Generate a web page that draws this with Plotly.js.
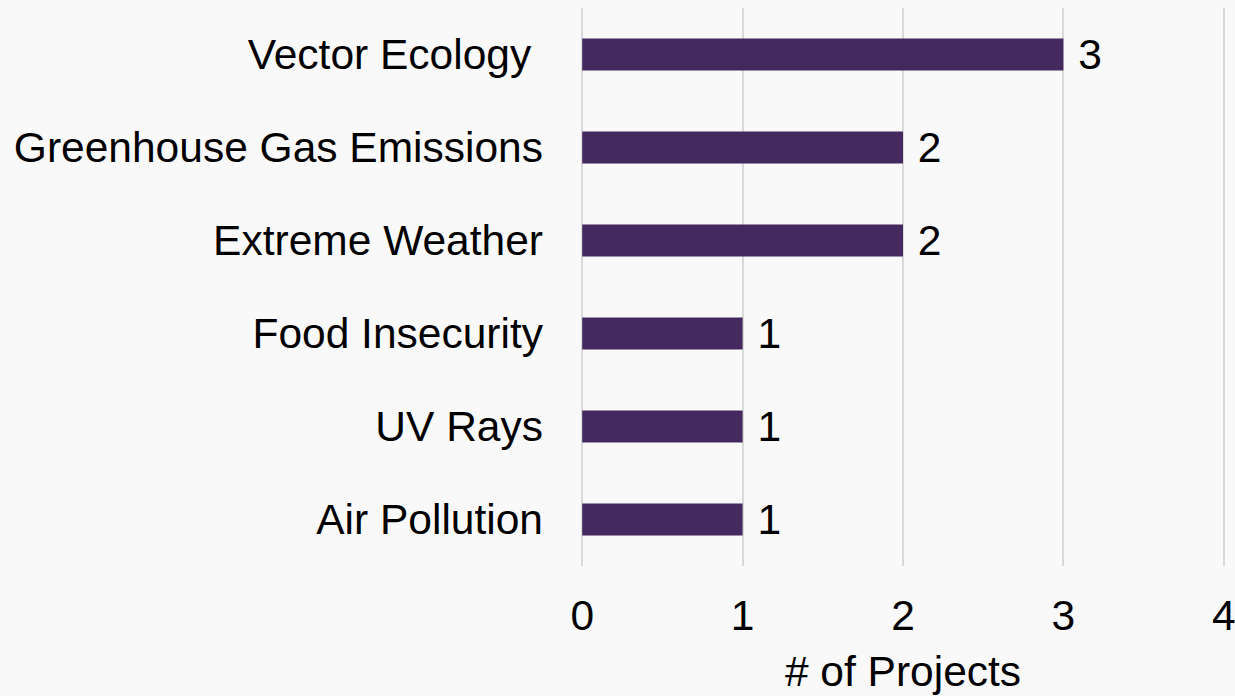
<!DOCTYPE html>
<html>
<head>
<meta charset="utf-8">
<script src="https://cdn.plot.ly/plotly-3.0.1.min.js"></script>
<style>
html, body { margin: 0; padding: 0; background: #f9f9f9; }
#chart { width: 1235px; height: 696px; }
</style>
</head>
<body>
<div id="chart"></div>
<script>
const categories = ["Vector Ecology\u00a0", "Greenhouse Gas Emissions", "Extreme Weather", "Food Insecurity", "UV Rays", "Air Pollution"];
const projectCounts = [3, 2, 2, 1, 1, 1];
const xTickValues = [0, 1, 2, 3, 4];
const xTickLabels = ["0", "1", "2", "3", "4"];
const xAxisTitle = "# of Projects";

const FONT = "'Liberation Sans', Arial, sans-serif";
const FS = 42.5;

const trace = {
  type: "bar",
  orientation: "h",
  x: projectCounts,
  y: categories,
  marker: { color: "#44295e" },
  text: projectCounts.map(String),
  texttemplate: "\u00a0%{text}",
  textposition: "outside",
  constraintext: "none",
  cliponaxis: false,
  textfont: { family: FONT, size: FS, color: "#000000" },
  hoverinfo: "none"
};

const layout = {
  width: 1235,
  height: 696,
  paper_bgcolor: "#f9f9f9",
  plot_bgcolor: "#f9f9f9",
  margin: { l: 579, r: 8, t: 8, b: 130 },
  bargap: 0.655,
  showlegend: false,
  font: { family: FONT, size: FS, color: "#000000" },
  xaxis: {
    range: [-0.02, 4.02],
    tickvals: xTickValues,
    ticktext: xTickLabels,
    showgrid: true,
    gridcolor: "#d9d9d9",
    gridwidth: 2,
    zeroline: true,
    zerolinecolor: "#d9d9d9",
    zerolinewidth: 2,
    showline: false,
    ticks: "",
    ticklabelstandoff: 20,
    ticklabeloverflow: "allow",
    tickfont: { family: FONT, size: FS, color: "#000000" },
    title: { text: xAxisTitle, font: { family: FONT, size: FS, color: "#000000" }, standoff: 18 },
    automargin: false,
    fixedrange: true
  },
  yaxis: {
    type: "category",
    autorange: "reversed",
    showgrid: false,
    zeroline: false,
    showline: false,
    ticks: "",
    ticklabelstandoff: 35,
    tickfont: { family: FONT, size: FS, color: "#000000" },
    automargin: false,
    fixedrange: true
  }
};

Plotly.newPlot("chart", [trace], layout, { displayModeBar: false, staticPlot: true });
</script>
</body>
</html>
